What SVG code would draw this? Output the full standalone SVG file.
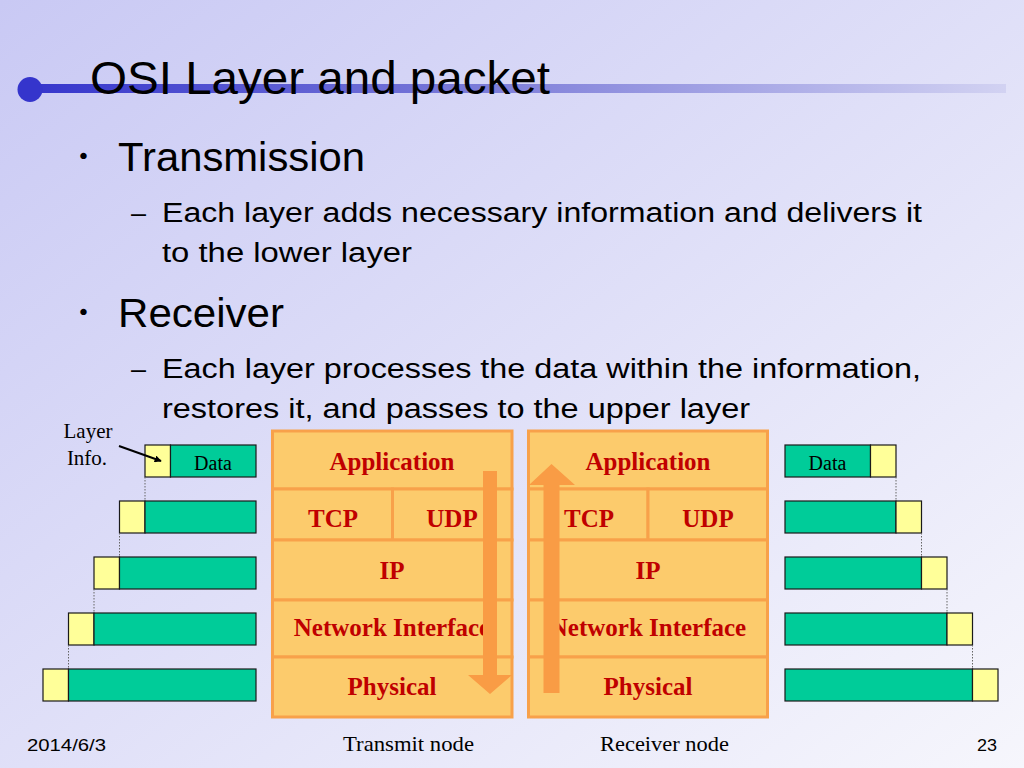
<svg xmlns="http://www.w3.org/2000/svg" width="1024" height="768" viewBox="0 0 1024 768">
<defs>
<linearGradient id="bg" x1="0" y1="0" x2="1" y2="1">
<stop offset="0" stop-color="#c9c9f4"/>
<stop offset="1" stop-color="#f6f6fc"/>
</linearGradient>
<linearGradient id="tl" x1="0" y1="0" x2="1" y2="0">
<stop offset="0" stop-color="#3535cc"/>
<stop offset="0.45" stop-color="#7a7ad8"/>
<stop offset="1" stop-color="#d2d2f2"/>
</linearGradient>
<marker id="ah" viewBox="0 0 10 10" refX="9" refY="5" markerWidth="7" markerHeight="7" orient="auto" markerUnits="userSpaceOnUse">
<path d="M0,0 L10,5 L0,10 z" fill="#000"/>
</marker>
<style>
.l1{font-family:"Liberation Sans",Arial,sans-serif;font-size:40px;fill:#000}
.l2{font-family:"Liberation Sans",Arial,sans-serif;font-size:27px;fill:#000}
.cell{fill:#fccb6c;stroke:#f8a14a;stroke-width:3}
.lt{font-family:"Liberation Serif","Times New Roman",serif;font-size:25px;font-weight:bold;fill:#c00000;text-anchor:middle}
.g{fill:#00cc99;stroke:#1a1a1a;stroke-width:1.2}
.y{fill:#ffff99;stroke:#1a1a1a;stroke-width:1.2}
.dot{stroke:#666;stroke-width:1;stroke-dasharray:1.5 1.5;fill:none}
.ser{font-family:"Liberation Serif","Times New Roman",serif;fill:#000}
.flow{fill:#f99c45}
</style>
</defs>
<rect width="1024" height="768" fill="url(#bg)"/>

<g id="title">
<rect x="30" y="84" width="976" height="9" fill="url(#tl)"/>
<circle cx="30" cy="89.5" r="12.5" fill="#3535cc"/>
<text x="90" y="94" font-family="Liberation Sans, Arial, sans-serif" font-size="46" textLength="460" lengthAdjust="spacingAndGlyphs">OSI Layer and packet</text>
</g>

<g id="bullets">
<text class="l1" x="62.5" y="170" font-family="Noto Sans CJK JP, sans-serif">・</text>
<text class="l1" x="118" y="171" textLength="247" lengthAdjust="spacingAndGlyphs">Transmission</text>
<text class="l2" x="131" y="222">–</text>
<text class="l2" x="162" y="222" textLength="760" lengthAdjust="spacingAndGlyphs">Each layer adds necessary information and delivers it</text>
<text class="l2" x="162" y="262" textLength="250" lengthAdjust="spacingAndGlyphs">to the lower layer</text>
<text class="l1" x="62.5" y="326" font-family="Noto Sans CJK JP, sans-serif">・</text>
<text class="l1" x="118" y="327" textLength="166" lengthAdjust="spacingAndGlyphs">Receiver</text>
<text class="l2" x="131" y="378">–</text>
<text class="l2" x="162" y="378" textLength="759" lengthAdjust="spacingAndGlyphs">Each layer processes the data within the information,</text>
<text class="l2" x="162" y="418" textLength="588" lengthAdjust="spacingAndGlyphs">restores it, and passes to the upper layer</text>
</g>

<g id="layer-info">
<text class="ser" x="88" y="438" font-size="21" text-anchor="middle">Layer</text>
<text class="ser" x="87" y="465" font-size="21" text-anchor="middle">Info.</text>
</g>

<g id="transmit-stack">
<rect class="cell" x="272.5" y="431" width="239.5" height="58"/>
<rect class="cell" x="272.5" y="489" width="120" height="51"/>
<rect class="cell" x="392.5" y="489" width="119.5" height="51"/>
<rect class="cell" x="272.5" y="540" width="239.5" height="60"/>
<rect class="cell" x="272.5" y="600" width="239.5" height="57"/>
<rect class="cell" x="272.5" y="657" width="239.5" height="60"/>
<text class="lt" x="392" y="470">Application</text>
<text class="lt" x="333" y="527">TCP</text>
<text class="lt" x="452" y="527">UDP</text>
<text class="lt" x="392" y="579">IP</text>
<text class="lt" x="392" y="636">Network Interface</text>
<text class="lt" x="392" y="695">Physical</text>
</g>

<g id="receiver-stack">
<rect class="cell" x="528.5" y="431" width="239" height="58"/>
<rect class="cell" x="528.5" y="489" width="119.5" height="51"/>
<rect class="cell" x="648" y="489" width="119.5" height="51"/>
<rect class="cell" x="528.5" y="540" width="239" height="60"/>
<rect class="cell" x="528.5" y="600" width="239" height="57"/>
<rect class="cell" x="528.5" y="657" width="239" height="60"/>
<text class="lt" x="648" y="470">Application</text>
<text class="lt" x="589" y="527">TCP</text>
<text class="lt" x="708" y="527">UDP</text>
<text class="lt" x="648" y="579">IP</text>
<text class="lt" x="648" y="636">Network Interface</text>
<text class="lt" x="648" y="695">Physical</text>
</g>

<g id="left-packets">
<rect class="y" x="145" y="445" width="25.5" height="32"/>
<rect class="g" x="170.5" y="445" width="85.5" height="32"/>
<text class="ser" x="213" y="470" font-size="20" text-anchor="middle">Data</text>
<rect class="y" x="119.5" y="501" width="25.5" height="32"/>
<rect class="g" x="145" y="501" width="111" height="32"/>
<rect class="y" x="94" y="557" width="25.5" height="32"/>
<rect class="g" x="119.5" y="557" width="136.5" height="32"/>
<rect class="y" x="68.5" y="613" width="25.5" height="32"/>
<rect class="g" x="94" y="613" width="162" height="32"/>
<rect class="y" x="43" y="669" width="25.5" height="32"/>
<rect class="g" x="68.5" y="669" width="187.5" height="32"/>
</g>

<g id="right-packets">
<rect class="g" x="785" y="445" width="85.5" height="32"/>
<rect class="y" x="870.5" y="445" width="25.5" height="32"/>
<text class="ser" x="827.5" y="470" font-size="20" text-anchor="middle">Data</text>
<rect class="g" x="785" y="501" width="111" height="32"/>
<rect class="y" x="896" y="501" width="25.5" height="32"/>
<rect class="g" x="785" y="557" width="136.5" height="32"/>
<rect class="y" x="921.5" y="557" width="25.5" height="32"/>
<rect class="g" x="785" y="613" width="162" height="32"/>
<rect class="y" x="947" y="613" width="25.5" height="32"/>
<rect class="g" x="785" y="669" width="187.5" height="32"/>
<rect class="y" x="972.5" y="669" width="25.5" height="32"/>
</g>

<g id="connectors">
<line class="dot" x1="145" y1="477" x2="145" y2="501"/>
<line class="dot" x1="119.5" y1="533" x2="119.5" y2="557"/>
<line class="dot" x1="94" y1="589" x2="94" y2="613"/>
<line class="dot" x1="68.5" y1="645" x2="68.5" y2="669"/>
<line class="dot" x1="896" y1="477" x2="896" y2="501"/>
<line class="dot" x1="921.5" y1="533" x2="921.5" y2="557"/>
<line class="dot" x1="947" y1="589" x2="947" y2="613"/>
<line class="dot" x1="972.5" y1="645" x2="972.5" y2="669"/>
<line x1="119" y1="446" x2="161" y2="461" stroke="#000" stroke-width="2" marker-end="url(#ah)"/>
<polygon class="flow" points="483,471 497,471 497,675 512,675 490,694 468,675 483,675"/>
<polygon class="flow" points="551.5,464 575,485 559.5,485 559.5,693 543.5,693 543.5,485 529,485"/>
</g>

<g id="footer">
<text x="27" y="751" font-family="Liberation Sans, Arial, sans-serif" font-size="16" textLength="79" lengthAdjust="spacingAndGlyphs">2014/6/3</text>
<text class="ser" x="343" y="751" font-size="21" textLength="131" lengthAdjust="spacingAndGlyphs">Transmit node</text>
<text class="ser" x="600" y="751" font-size="21" textLength="129" lengthAdjust="spacingAndGlyphs">Receiver node</text>
<text x="977" y="751" font-family="Liberation Sans, Arial, sans-serif" font-size="16" textLength="20" lengthAdjust="spacingAndGlyphs">23</text>
</g>
</svg>
